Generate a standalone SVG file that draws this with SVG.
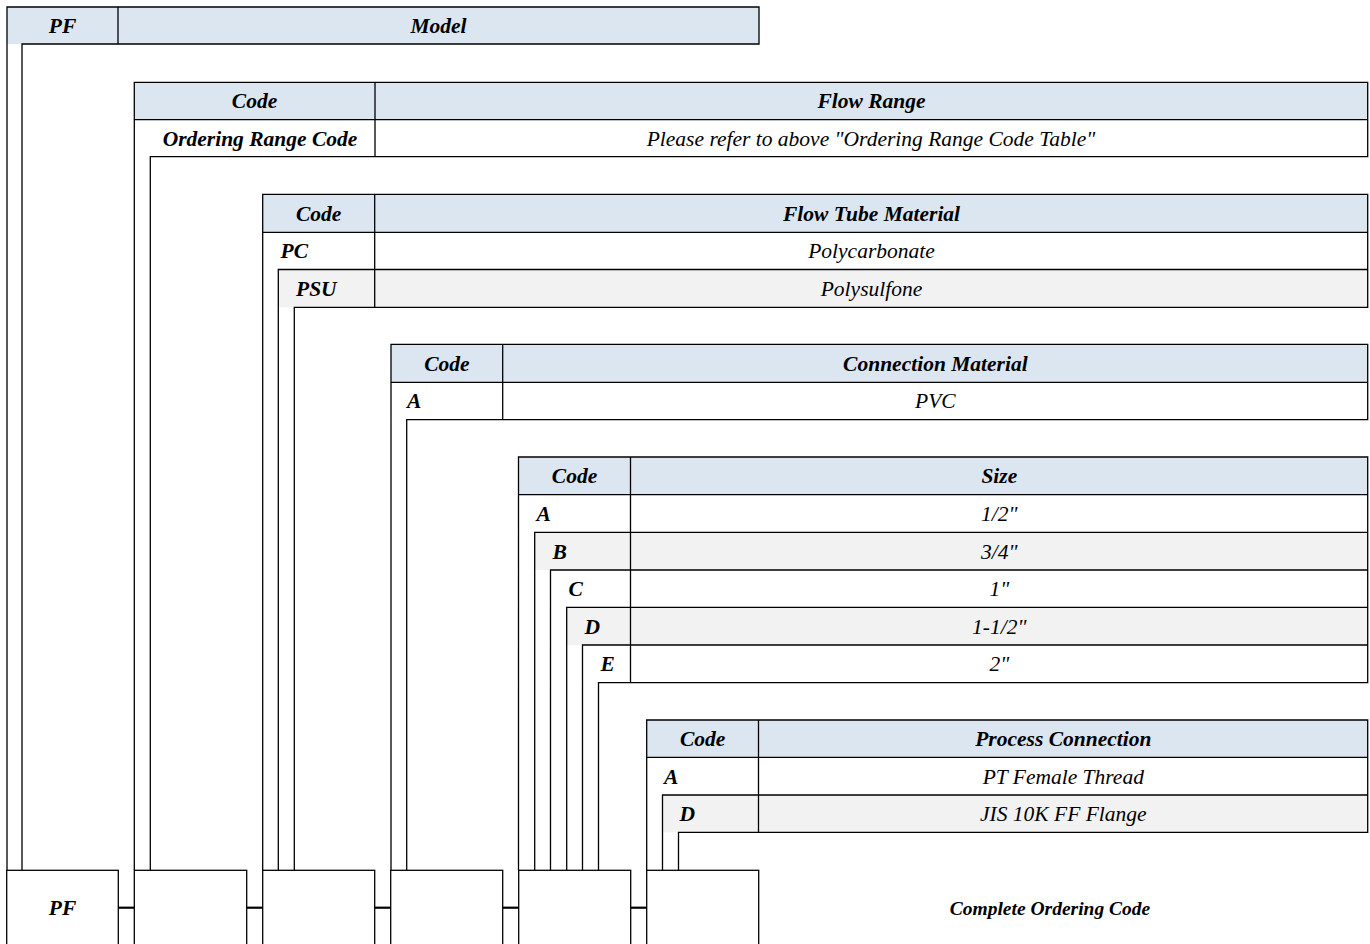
<svg xmlns="http://www.w3.org/2000/svg" width="1370" height="944" viewBox="0 0 1370 944">
<style>
text{font-family:"Liberation Serif","Times New Roman",serif;font-size:21.5px;font-style:italic;fill:#000}
.b{font-weight:bold}
.m{text-anchor:middle}
.hd{fill:#dce6f1}
.alt{fill:#f2f2f2}
.ln{fill:none;stroke:#000;stroke-width:1.3}
.box{fill:#fff;stroke:#000;stroke-width:1.3}
.con{stroke:#000;stroke-width:2.2}
.lbl{font-size:19.5px}
</style>
<rect width="1370" height="944" fill="#fff"/>

<g id="t1">
<rect class="hd" x="7" y="7" width="752" height="37"/>
<path class="ln" d="M7,870V7H759V44H22V870M118,7V44"/>
<text class="b m" x="62.5" y="33">PF</text>
<text class="b m" x="438.5" y="33">Model</text>
</g>

<g id="t2">
<rect class="hd" x="134.3" y="82.3" width="1233.4" height="37.4"/>
<path class="ln" d="M134.3,870V82.3H1367.7V156.7H150.3V870M134.3,119.7H1367.7M375,82.3V156.7"/>
<text class="b m" x="254.5" y="108.3">Code</text>
<text class="b m" x="871.5" y="108.3">Flow Range</text>
<text class="b m" x="260" y="145.5">Ordering Range Code</text>
<text class="m" x="871" y="145.5">Please refer to above "Ordering Range Code Table"</text>
</g>

<g id="t3">
<rect class="hd" x="262.7" y="194.3" width="1105" height="38"/>
<rect class="alt" x="278.3" y="269.5" width="1089.4" height="37.8"/>
<path class="ln" d="M262.7,870V194.3H1367.7V307.3H294.3V870M262.7,232.3H1367.7M278.3,870V269.5H1367.7M374.7,194.3V307.3"/>
<text class="b m" x="318.7" y="220.6">Code</text>
<text class="b m" x="871.5" y="220.6">Flow Tube Material</text>
<text class="b" x="280.5" y="258.2">PC</text>
<text class="m" x="871.5" y="258.2">Polycarbonate</text>
<text class="b" x="296" y="295.7">PSU</text>
<text class="m" x="871.5" y="295.7">Polysulfone</text>
</g>

<g id="t4">
<rect class="hd" x="391" y="344.3" width="976.7" height="38"/>
<path class="ln" d="M391,870V344.3H1367.7V419.7H406.7V870M391,382.3H1367.7M502.7,344.3V419.7"/>
<text class="b m" x="446.9" y="370.6">Code</text>
<text class="b m" x="935.4" y="370.6">Connection Material</text>
<text class="b" x="407" y="408.3">A</text>
<text class="m" x="935.4" y="408.3">PVC</text>
</g>

<g id="t5">
<rect class="hd" x="518.5" y="457" width="849.2" height="37.7"/>
<rect class="alt" x="534.7" y="532.3" width="833" height="37.7"/>
<rect class="alt" x="566.7" y="607.3" width="801" height="37.7"/>
<path class="ln" d="M518.5,870V457H1367.7V682.7H598.5V870M518.5,494.7H1367.7M534.7,870V532.3H1367.7M550.5,870V570H1367.7M566.7,870V607.3H1367.7M582.5,870V645H1367.7M630.5,457V682.7"/>
<text class="b m" x="574.5" y="483.2">Code</text>
<text class="b m" x="999.3" y="483.2">Size</text>
<text class="b" x="536.5" y="520.8">A</text>
<text class="m" x="999.3" y="520.8">1/2"</text>
<text class="b" x="552.5" y="558.5">B</text>
<text class="m" x="999.3" y="558.5">3/4"</text>
<text class="b" x="568.5" y="596">C</text>
<text class="m" x="999.3" y="596">1"</text>
<text class="b" x="584.5" y="633.5">D</text>
<text class="m" x="999.3" y="633.5">1-1/2"</text>
<text class="b" x="600.5" y="671.2">E</text>
<text class="m" x="999.3" y="671.2">2"</text>
</g>

<g id="t6">
<rect class="hd" x="646.7" y="720" width="721" height="37.3"/>
<rect class="alt" x="662.5" y="795" width="705.2" height="37.3"/>
<path class="ln" d="M646.7,870V720H1367.7V832.3H678.5V870M646.7,757.3H1367.7M662.5,870V795H1367.7M758.5,720V832.3"/>
<text class="b m" x="702.6" y="746">Code</text>
<text class="b m" x="1063.3" y="746">Process Connection</text>
<text class="b" x="664" y="783.5">A</text>
<text class="m" x="1063.3" y="783.5">PT Female Thread</text>
<text class="b" x="679.5" y="821">D</text>
<text class="m" x="1063.3" y="821">JIS 10K FF Flange</text>
</g>

<g id="connectors">
<line class="con" x1="118.3" y1="907.7" x2="134.3" y2="907.7"/>
<line class="con" x1="246.7" y1="907.7" x2="262.7" y2="907.7"/>
<line class="con" x1="374.7" y1="907.7" x2="390.7" y2="907.7"/>
<line class="con" x1="502.7" y1="907.7" x2="518.7" y2="907.7"/>
<line class="con" x1="630.7" y1="907.7" x2="646.7" y2="907.7"/>
</g>

<g id="b1"><rect class="box" x="6.7" y="870.3" width="111.6" height="80"/><text class="b m" x="62.5" y="914.5">PF</text></g>
<g id="b2"><rect class="box" x="134.3" y="870.3" width="112.4" height="80"/></g>
<g id="b3"><rect class="box" x="262.7" y="870.3" width="112" height="80"/></g>
<g id="b4"><rect class="box" x="390.7" y="870.3" width="112" height="80"/></g>
<g id="b5"><rect class="box" x="518.7" y="870.3" width="112" height="80"/></g>
<g id="b6"><rect class="box" x="646.7" y="870.3" width="112" height="80"/></g>
<g id="label"><text class="b m lbl" x="1050" y="914.5">Complete Ordering Code</text></g>
</svg>
